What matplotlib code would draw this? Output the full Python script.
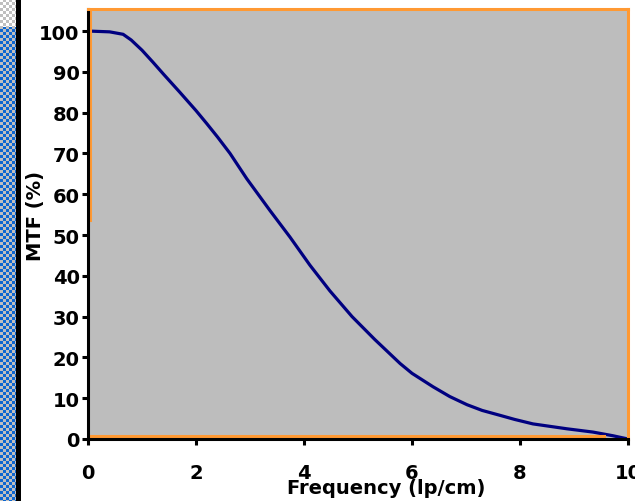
import numpy as np
import matplotlib
matplotlib.use("Agg")
import matplotlib.pyplot as plt

# MTF curve
freq = [0.0, 0.4, 0.65, 0.8, 1.0, 1.2, 1.4, 1.7, 2.0, 2.2, 2.4, 2.63,
        2.94, 3.37, 3.74, 4.11, 4.48, 4.89, 5.31, 5.78, 6.0, 6.39, 6.7, 7.02,
        7.3, 7.63, 7.9, 8.24, 8.87, 9.35, 9.72, 10.0]
mtf = [100.0, 99.8, 99.2, 97.8, 95.3, 92.4, 89.4, 85.0, 80.5, 77.3, 74.0, 70.0,
       63.8, 56.0, 49.5, 42.6, 36.3, 30.0, 24.4, 18.5, 16.1, 12.8, 10.4, 8.4,
       7.0, 5.8, 4.8, 3.7, 2.5, 1.7, 0.8, 0.0]

xticks = [0, 2, 4, 6, 8, 10]
yticks = [0, 10, 20, 30, 40, 50, 60, 70, 80, 90, 100]

W, H = 635, 502
fig = plt.figure(figsize=(W / 100, H / 100), dpi=100, facecolor="white")

# left window strip (screenshot edge)
strip = fig.add_axes([0, 0, 22 / W, 1])
img = np.ones((H, 22, 3))
yy, xx = np.mgrid[0:H, 0:22]
chk = ((yy // 3 + xx // 3) % 2) == 0
blue = np.array([0.05, 0.40, 0.82])
grey = np.array([0.75, 0.75, 0.75])
img[chk] = blue
img[~chk] = grey
top = yy < 28
img[top & chk] = np.array([1.0, 1.0, 1.0])
img[top & ~chk] = grey
img[:, 16:21] = 0.0
img[:, 21:] = 1.0
strip.imshow(img, aspect="auto", interpolation="nearest")
strip.axis("off")

# main plot
x0, x1 = 88 / W, 628 / W
y0, y1 = 1 - 440 / H, 1 - 10 / H
ax = fig.add_axes([x0, y0, x1 - x0, y1 - y0])
ax.set_facecolor("#bdbdbd")

ax.plot(freq, mtf, color="#000080", lw=2.3, solid_joinstyle="round")

ax.set_xlim(0, 10)
ax.set_ylim(0, 105.4)
ax.set_xticks(xticks)
ax.set_xticklabels([str(t) for t in xticks])
ax.set_yticks(yticks)
ax.set_yticklabels([str(t) for t in yticks])

for s in ["top", "right"]:
    ax.spines[s].set_color("#ff9933")
    ax.spines[s].set_linewidth(2.2)
for s in ["left", "bottom"]:
    ax.spines[s].set_color("black")
    ax.spines[s].set_linewidth(2.2)

# orange inner edges
ax.axvline(0.04, ymin=0.51, ymax=1, color="#ff9933", lw=2.2)
ax.axhline(0.7, xmin=0.0, xmax=0.955, color="#ff9933", lw=2.2)

ax.tick_params(axis="x", direction="out", length=4, width=2.2, pad=13,
               labelsize=14, colors="black")
ax.tick_params(axis="y", direction="out", length=4, width=2.2, pad=2,
               labelsize=14, colors="black")
for lab in ax.get_xticklabels() + ax.get_yticklabels():
    lab.set_fontweight("bold")

fig.text(386 / W, 1 - 489 / H, "Frequency (lp/cm)", ha="center", va="center",
         fontsize=14, fontweight="bold")
fig.text(35 / W, 1 - 216 / H, "MTF (%)", ha="center", va="center",
         rotation=90, fontsize=14, fontweight="bold")

fig.savefig("out.png", dpi=100)
